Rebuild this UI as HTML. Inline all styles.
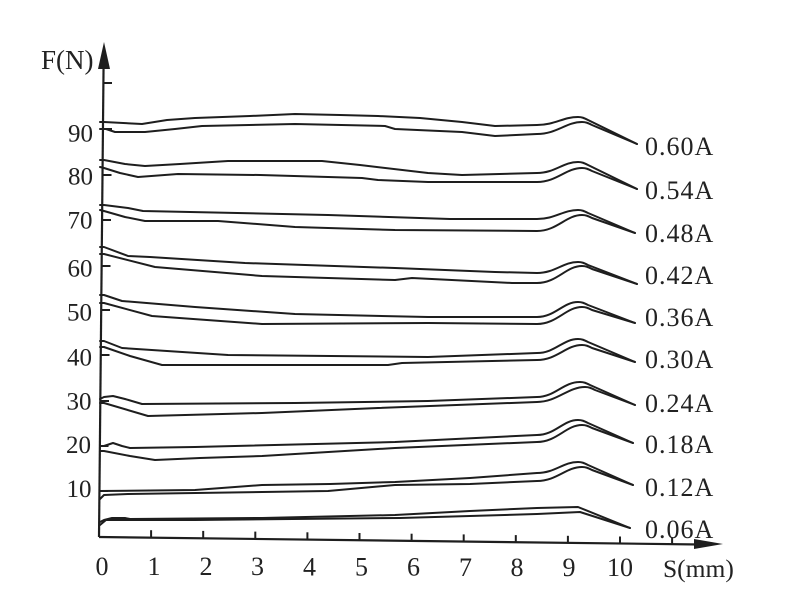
<!DOCTYPE html>
<html>
<head>
<meta charset="utf-8">
<style>
  html, body { margin: 0; padding: 0; background: #ffffff; }
  svg { display: block; }
  text { font-family: "Liberation Serif", "DejaVu Serif", serif; fill: #222; }
</style>
</head>
<body>
<svg width="800" height="596" viewBox="0 0 800 596" xmlns="http://www.w3.org/2000/svg">
  <rect x="0" y="0" width="800" height="596" fill="#ffffff"/>

  <!-- Axes -->
  <g stroke="#1e1e1e" stroke-width="2.2" fill="none" stroke-linecap="butt">
    <line x1="99" y1="537" x2="103.6" y2="62"/>
    <line x1="99" y1="537" x2="700" y2="544.5"/>
  </g>
  <polygon points="104,42 98,69 110,69" fill="#1e1e1e"/>
  <polygon points="723,544 694,539 694,549" fill="#1e1e1e"/>

  <!-- X ticks -->
  <g stroke="#1e1e1e" stroke-width="2">
    <line x1="151.1" y1="537.7" x2="151.1" y2="530.2"/>
    <line x1="203.2" y1="538.4" x2="203.2" y2="530.9"/>
    <line x1="255.3" y1="539.1" x2="255.3" y2="531.6"/>
    <line x1="307.4" y1="539.8" x2="307.4" y2="532.3"/>
    <line x1="359.5" y1="540.5" x2="359.5" y2="533.0"/>
    <line x1="411.6" y1="541.2" x2="411.6" y2="533.7"/>
    <line x1="463.7" y1="541.9" x2="463.7" y2="534.4"/>
    <line x1="515.8" y1="542.6" x2="515.8" y2="535.1"/>
    <line x1="567.9" y1="543.3" x2="567.9" y2="535.8"/>
    <line x1="620.0" y1="544.0" x2="620.0" y2="536.5"/>
    <line x1="672.1" y1="544.7" x2="672.1" y2="537.2"/>
  </g>

  <!-- Y ticks -->
  <g stroke="#1e1e1e" stroke-width="2">
    <line x1="99.4" y1="491" x2="108" y2="491"/>
    <line x1="99.9" y1="446" x2="108.5" y2="446"/>
    <line x1="100.3" y1="401" x2="109" y2="401"/>
    <line x1="100.7" y1="355" x2="109.5" y2="355"/>
    <line x1="101.2" y1="310" x2="110" y2="310"/>
    <line x1="101.6" y1="266" x2="110.5" y2="266"/>
    <line x1="102" y1="220" x2="111" y2="220"/>
    <line x1="102.4" y1="175" x2="111.5" y2="175"/>
    <line x1="102.9" y1="129" x2="112" y2="129"/>
    <line x1="103.3" y1="83" x2="112" y2="83"/>
  </g>

  <!-- Y tick labels -->
  <g font-size="25" text-anchor="end">
    <text x="93" y="141.5">90</text>
    <text x="93" y="184.5">80</text>
    <text x="92.5" y="228.5">70</text>
    <text x="92.5" y="276.5">60</text>
    <text x="92" y="320.5">50</text>
    <text x="92" y="365.5">40</text>
    <text x="91.5" y="409.5">30</text>
    <text x="91" y="453">20</text>
    <text x="91.5" y="497">10</text>
  </g>

  <!-- X tick labels -->
  <g font-size="26" text-anchor="middle">
    <text x="102" y="575">0</text>
    <text x="154" y="575">1</text>
    <text x="206" y="575">2</text>
    <text x="257.5" y="575">3</text>
    <text x="309.5" y="575.5">4</text>
    <text x="361.5" y="575.5">5</text>
    <text x="413.5" y="575.5">6</text>
    <text x="465.5" y="576">7</text>
    <text x="517" y="576">8</text>
    <text x="569" y="576">9</text>
    <text x="620" y="576">10</text>
  </g>

  <!-- Axis titles -->
  <text x="41" y="69" font-size="27">F(N)</text>
  <text x="663" y="577" font-size="25.5">S(mm)</text>

  <!-- Series labels -->
  <g font-size="26" letter-spacing="1">
    <text x="645" y="155">0.60A</text>
    <text x="645" y="199">0.54A</text>
    <text x="645" y="242">0.48A</text>
    <text x="645" y="284">0.42A</text>
    <text x="645" y="326">0.36A</text>
    <text x="645" y="368">0.30A</text>
    <text x="645" y="412">0.24A</text>
    <text x="645" y="453">0.18A</text>
    <text x="645" y="496">0.12A</text>
    <text x="645" y="538">0.06A</text>
  </g>

  <!-- Curves -->
  <g stroke="#1e1e1e" stroke-width="2" fill="none" stroke-linejoin="round" stroke-linecap="round">
    <!-- 0.60A -->
    <path d="M100,122 L104,122 L142,124 L167,120 L195,118 L250,116 L295,114 L340,115 L378,116 L420,118 L462,122 L495,126 L537,125 C555,125 563,117 578,117 C582,117 584,118 588,120 L637,144"/>
    <path d="M100,129 L106,129 L115,132 L145,132 L175,129 L202,126 L295,124 L385,126 L395,129 L462,132 L495,136 L537,134 C557,134 566,122 582,122 C586,122 588,123 592,125 L637,144"/>
    <!-- 0.54A -->
    <path d="M100,160 L104,160 L125,164 L145,166 L180,164 L228,161 L322,161 L360,165 L428,173 L462,175 L537,173 C555,173 563,162 578,162 C582,162 584,163 588,165 L637,189"/>
    <path d="M100,167 L104,168 L120,173 L138,177 L178,174 L260,175 L362,178 L378,180 L428,182 L537,182 C557,182 566,168 582,168 C586,168 588,169 592,171 L637,189"/>
    <!-- 0.48A -->
    <path d="M100,205 L104,205 L128,208 L143,211 L328,215 L450,219 L537,219 C555,219 563,210 578,210 C582,210 584,211 588,213 L635,233"/>
    <path d="M100,210 L104,211 L125,217 L145,221 L218,221 L295,227 L395,230 L537,231 C557,231 566,215 582,215 C586,215 588,216 592,218 L635,233"/>
    <!-- 0.42A -->
    <path d="M100,247 L104,247 L128,256 L150,257 L245,263 L395,268 L495,272 L537,273 C555,273 563,262 578,262 C582,262 584,263 588,265 L637,284"/>
    <path d="M100,254 L104,254 L155,267 L262,276 L395,280 L412,278 L512,283 L537,283 C557,283 566,266 582,266 C586,266 588,267 592,269 L637,284"/>
    <!-- 0.36A -->
    <path d="M100,295 L104,295 L122,301 L195,307 L295,314 L428,317 L537,317 C555,317 563,302 578,302 C582,302 584,303 588,305 L635,323"/>
    <path d="M100,303 L104,303 L152,316 L262,324 L428,323 L537,324 C557,324 566,307 582,307 C586,307 588,308 592,310 L635,323"/>
    <!-- 0.30A -->
    <path d="M100,341 L104,341 L122,348 L228,355 L428,357 L537,353 C555,353 563,339 578,339 C582,339 584,340 588,342 L635,362"/>
    <path d="M100,347 L104,347 L130,356 L162,365 L388,365 L402,363 L537,360 C557,360 566,345 582,345 C586,345 588,346 592,348 L635,362"/>
    <!-- 0.24A -->
    <path d="M100,399 L104,397 L113,396 L125,399 L142,404 L295,403 L428,401 L537,397 C555,397 563,382 580,382 C584,382 586,383 590,385 L635,405"/>
    <path d="M100,403 L104,403 L148,416 L262,413 L378,408 L537,402 C557,402 568,387 585,387 C589,387 591,388 595,390 L635,405"/>
    <!-- 0.18A -->
    <path d="M100,446 L104,446 L113,443 L122,446 L130,448 L195,447 L395,442 L537,435 C555,435 563,420 578,420 C582,420 584,421 588,423 L633,443"/>
    <path d="M100,451 L104,451 L130,456 L155,460 L200,458 L262,456 L395,448 L537,442 C557,442 566,425 582,425 C586,425 588,426 592,428 L633,443"/>
    <!-- 0.12A -->
    <path d="M100,491 L195,490 L262,485 L330,484 L395,482 L470,478 L537,473 C555,473 563,462 578,462 C582,462 584,463 588,465 L633,485"/>
    <path d="M100,499 L104,495 L128,494 L328,491 L395,485 L470,484 L537,481 C557,481 566,467 582,467 C586,467 588,468 592,470 L633,485"/>
    <!-- 0.06A -->
    <path d="M100,522 L104,520 L112,518 L125,518 L130,519 L262,518 L395,515 L470,511 L537,508 L578,507 L630,528"/>
    <path d="M100,525 L106,520 L195,520 L400,518 L470,516 L537,514 L580,512 L630,528"/>
  </g>
</svg>
</body>
</html>
